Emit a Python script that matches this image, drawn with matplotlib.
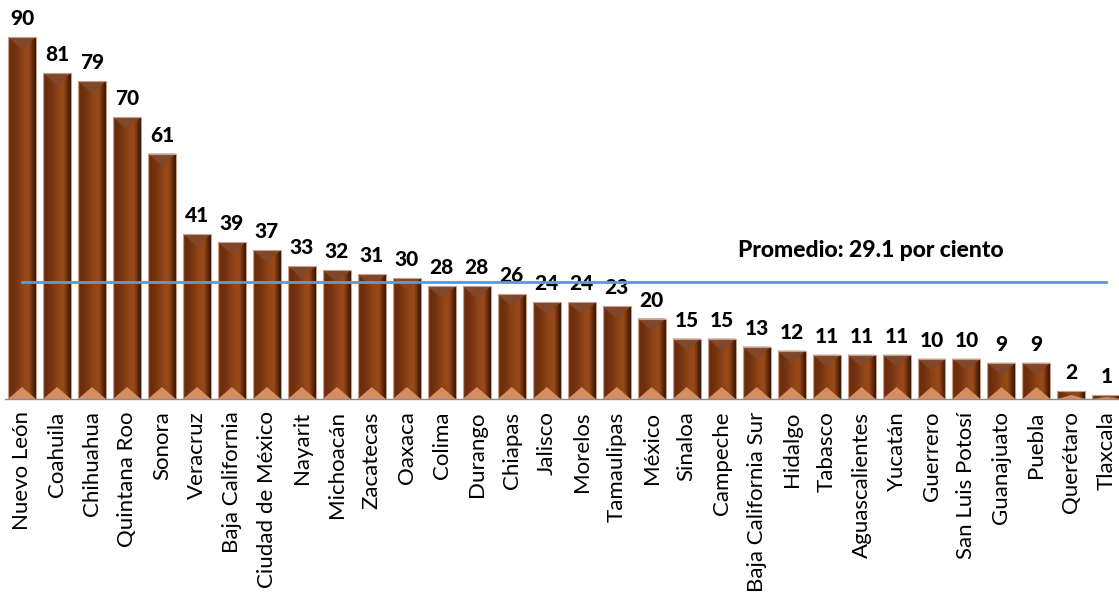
import numpy as np
import matplotlib
matplotlib.use("Agg")
import matplotlib.pyplot as plt
from matplotlib.patches import Polygon
from matplotlib.colors import LinearSegmentedColormap

states = ["Nuevo León", "Coahuila", "Chihuahua", "Quintana Roo", "Sonora", "Veracruz",
          "Baja California", "Ciudad de México", "Nayarit", "Michoacán", "Zacatecas",
          "Oaxaca", "Colima", "Durango", "Chiapas", "Jalisco", "Morelos", "Tamaulipas",
          "México", "Sinaloa", "Campeche", "Baja California Sur", "Hidalgo", "Tabasco",
          "Aguascalientes", "Yucatán", "Guerrero", "San Luis Potosí", "Guanajuato",
          "Puebla", "Querétaro", "Tlaxcala"]
values = [90, 81, 79, 70, 61, 41, 39, 37, 33, 32, 31, 30, 28, 28, 26, 24, 24, 23,
          20, 15, 15, 13, 12, 11, 11, 11, 10, 10, 9, 9, 2, 1]
average = 29.1
avg_label = "Promedio: 29.1 por ciento"

W, H = 1119, 614
fig = plt.figure(figsize=(W / 100, H / 100), dpi=100)
ax = fig.add_axes([5 / W, 215 / H, 1114 / W, 399 / H])

x = np.arange(len(values))
bar_w = 0.8
bars = ax.bar(x, values, width=bar_w, color="#8a3f14", zorder=2)

ax.set_xlim(-0.486, len(values) - 1 + 0.36)
ax.set_ylim(0, 99.2)

grad_cmap = LinearSegmentedColormap.from_list(
    "brown",
    [(0.0, "#a87a60"), (0.05, "#6a2c0c"), (0.3, "#763410"), (0.55, "#904416"),
     (0.75, "#9a4a1a"), (0.88, "#6a2e0c"), (1.0, "#2e1406")])
grad = np.linspace(0, 1, 64).reshape(1, -1)

px_per_unit_y = 399 / 99.2
depth_px = 12
for rect, v in zip(bars.patches, values):
    x0 = rect.get_x()
    w = rect.get_width()
    x1 = x0 + w
    xc = x0 + w / 2
    h = rect.get_height()
    im = ax.imshow(grad, extent=(x0, x1, 0, h), aspect="auto", cmap=grad_cmap,
                   zorder=3, interpolation="bilinear")
    im.set_clip_path(rect)
    d = min(depth_px / px_per_unit_y, h / 2)
    top = Polygon([(x0, h), (x1, h), (xc, h - d)], closed=True,
                  facecolor="#80472a", edgecolor="none", zorder=4)
    bot = Polygon([(x0, 0), (x1, 0), (xc, d)], closed=True,
                  facecolor="#d68e60", edgecolor="none", zorder=4)
    ax.add_patch(top)
    ax.add_patch(bot)
    ax.add_patch(Polygon([(x0, 0), (x0, h), (x1, h), (x1, 0)], closed=True,
                         facecolor="none", edgecolor="#c8a08a", linewidth=0.8,
                         zorder=5))
    ax.text(xc, h + 12 / px_per_unit_y, str(v), ha="center", va="baseline",
            fontsize=15, fontweight="black", family="Lato", color="black")

ax.plot([0, len(values) - 1], [average, average], color="#5b9bd5",
        linewidth=2, zorder=6)
ax.text(20.46, average + 6.2, avg_label, ha="left", va="baseline",
        fontsize=16.5, fontweight="black", family="Lato", color="black")

for s in ["top", "right", "left"]:
    ax.spines[s].set_visible(False)
ax.spines["bottom"].set_color("#8c8c8c")
ax.spines["bottom"].set_linewidth(1.0)
ax.spines["bottom"].set_zorder(7)
ax.set_yticks([])
ax.set_xticks(x)
ax.set_xticklabels(states, rotation=90, fontsize=16, family="Lato", color="black")
ax.tick_params(axis="x", length=0, pad=9)

fig.savefig("out.png", dpi=100)
